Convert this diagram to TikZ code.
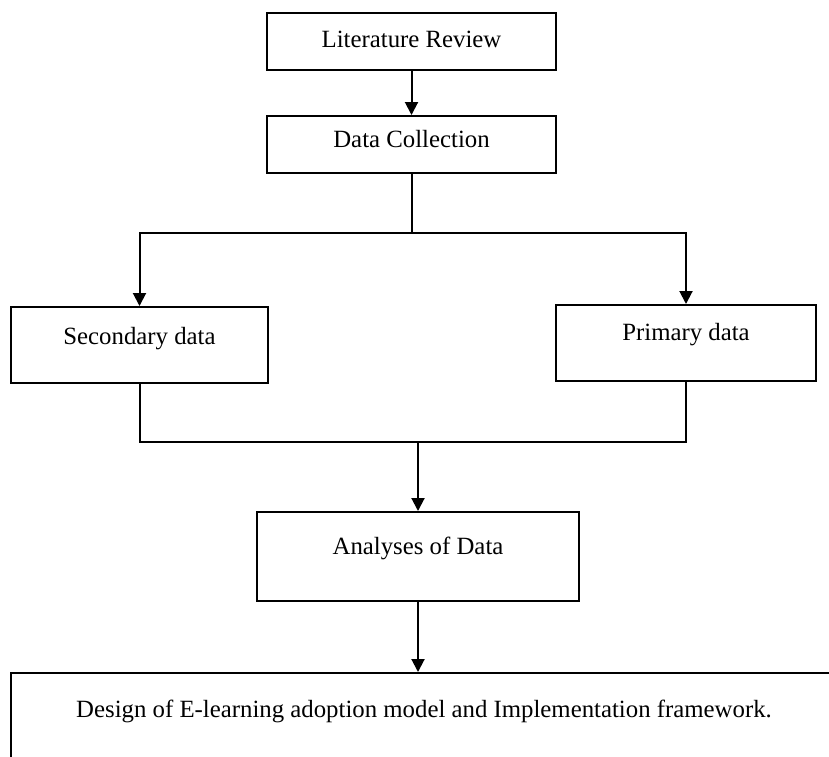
\documentclass[tikz,border=0pt]{standalone}
\usepackage{fontspec}
\setmainfont{Liberation Serif}
\usepackage{tikz}
\usetikzlibrary{arrows.meta}

\tikzset{
	block/.style={draw, line width=1pt, inner sep=0pt, text height=9pt, font=\fontsize{12.4}{14}\selectfont},
}

\begin{document}
\begin{tikzpicture} [x=0.5pt, y=-0.5pt, >={Triangle[length=6.5pt, width=6.5pt]}, line width=1pt]
		%\draw [help lines] (0,0) grid (829,756);
		\useasboundingbox (0,0) rectangle (829,756);
		\node[block, minimum width=144.5pt, minimum height=28.5pt, text depth=2.9pt] (lit) at (411.5,41.5) {Literature Review};
		\node[block, minimum width=144.5pt, minimum height=28.5pt, text depth=5.9pt] (dc) at (411.5,144.5) {Data Collection};
		\node[block, minimum width=128.5pt, minimum height=38pt, text depth=9.4pt] (sec) at (139.5,345) {Secondary data};
		\node[block, minimum width=130pt, minimum height=38pt, text depth=11.4pt] (prim) at (686,343) {Primary data};
		\node[block, minimum width=161pt, minimum height=44.5pt, text depth=10.9pt] (anal) at (418,556.5) {Analyses of Data};
		\node[block, minimum width=413pt, minimum height=50pt, text depth=14.4pt] (design) at (424,723) {Design of E-learning adoption model and Implementation framework.};
		\coordinate (fork) at (411.5,233);
		\coordinate (join) at (418,442);
		\draw[->] (lit) -- (dc);
		\draw (dc) -- (fork);
		\draw[->] (fork) -| (sec.north);
		\draw[->] (fork) -| (prim.north);
		\draw (sec.south) |- (join) -| (prim.south);
		\draw[->] (join) -- (anal.north);
		\draw[->] (anal.south) -- (anal.south |- design.north);
	\end{tikzpicture}
\end{document}
